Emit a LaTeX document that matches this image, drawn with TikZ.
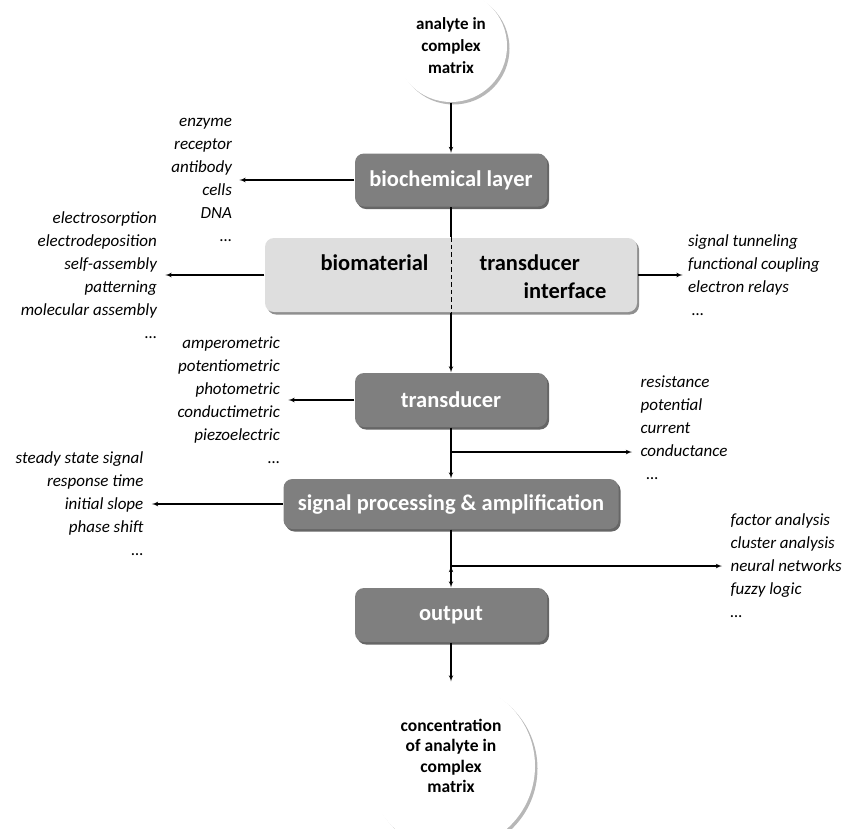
\documentclass[tikz,border=0pt]{standalone}
\usepackage{fontspec}
\setmainfont{Carlito}
\usetikzlibrary{calc}
\usetikzlibrary{arrows,positioning,shadows}
\definecolor{boxgray}{HTML}{7F7F7F}
\definecolor{ifacegray}{HTML}{DEDEDE}

\begin{document}
\begin{tikzpicture}[x=1pt,y=-1pt,>=latex',line width=1.1pt]
        \tikzset{block/.style= {fill=boxgray, rounded corners=9pt, text=white, align=center,
            font=\fontsize{22.5}{26}\selectfont\bfseries, minimum width=192pt, minimum height=53pt,
            drop shadow={shadow xshift=2pt, shadow yshift=-2.5pt, fill=black!75, opacity=.8}},
        iblock/.style= {fill=ifacegray, rounded corners=9pt, minimum width=372pt, minimum height=74pt,
            drop shadow={shadow xshift=2pt, shadow yshift=-2.5pt, fill=black!55, opacity=.8}},
        itext/.style={inner sep=0pt, font=\fontsize{22.5}{26}\selectfont\bfseries},
        blob/.style={circle, fill=white, align=center, inner sep=0pt,
            font=\fontsize{17}{22}\selectfont\bfseries,
            drop shadow={shadow xshift=2.5pt, shadow yshift=-2.5pt, fill=black!40, opacity=.7}},
        lst/.style={inner sep=0pt, font=\fontsize{17}{23}\selectfont\itshape},
        }
        \useasboundingbox (0,0) rectangle (851,828);

        \node [blob, minimum size=112pt] (analyte) at (451,46) {analyte in\\complex\\matrix};
        \node [block] (bio) at (451,180) {biochemical layer};
        \node [iblock] (iface) at (451,275) {};
        \node [itext, anchor=east] (biomat) at (429,263) {biomaterial};
        \node [itext, anchor=west] (transd) at (479,263) {transducer};
        \node [itext, anchor=east] (interf) at (607,291) {interface};
        \node [block, minimum height=54pt] (trans) at (451,400) {transducer};
        \node [block, minimum width=335pt, minimum height=50pt] (sig) at (451,504) {signal processing \& amplification};
        \node [block, minimum height=54pt] (out) at (451,615) {output};
        \node [blob, minimum size=168pt, text depth=20pt, font=\fontsize{17.5}{20.5}\selectfont\bfseries] (conc) at (451,766)
            {concentration\\of analyte in\\complex\\matrix};

        \node [lst, align=right, left=122pt of bio] (recog) {enzyme\\receptor\\antibody\\cells\\DNA\\…};
        \node [lst, align=right, left=107pt of iface] (immob) {electrosorption\\electrodeposition\\self-assembly\\patterning\\molecular assembly\\…};
        \node [lst, align=left, right=50pt of iface] (wiring) {signal tunneling\\functional coupling\\electron relays\\\hspace*{4pt}…};
        \node [lst, align=right, left=74pt of trans] (mode) {amperometric\\potentiometric\\photometric\\conductimetric\\piezoelectric\\…};
        \node [lst, align=right, left=139pt of sig] (feat) {steady state signal\\response time\\initial slope\\phase shift\\…};
        \node [lst, align=left, anchor=west] (meas) at (640,428) {resistance\\potential\\current\\conductance\\\hspace*{6pt}…};
        \node [lst, align=left, anchor=west] (chemo) at (730,566) {factor analysis\\cluster analysis\\neural networks\\fuzzy logic\\…};

        \coordinate (split1) at (451,452);
        \coordinate (split2) at (451,566);

%% paths
        \path[draw,->] (analyte) edge (bio)
                    (bio) edge[-] (iface)
                    (iface.south) edge (trans)
                    (trans) edge (sig)
                    (sig) edge (out)
                    (out) edge (conc)
                    (bio.west) edge[shorten >=7pt] (bio.west -| recog.east)
                    (iface.west) edge[shorten >=8pt] (iface.west -| immob.east)
                    (iface.east) edge[shorten >=5pt] (iface.east -| wiring.west)
                    (trans.west) edge[shorten >=8pt] (trans.west -| mode.east)
                    (sig.west) edge[shorten >=8pt] (sig.west -| feat.east)
                    (split1) edge[shorten >=8pt] (split1 -| meas.west)
                    (split2) edge[shorten >=8pt] (split2 -| chemo.west)
                    ;
        \draw[dash pattern=on 4.5pt off 3pt, line width=1pt] (iface.north) -- (iface.south);
    \end{tikzpicture}
\end{document}
